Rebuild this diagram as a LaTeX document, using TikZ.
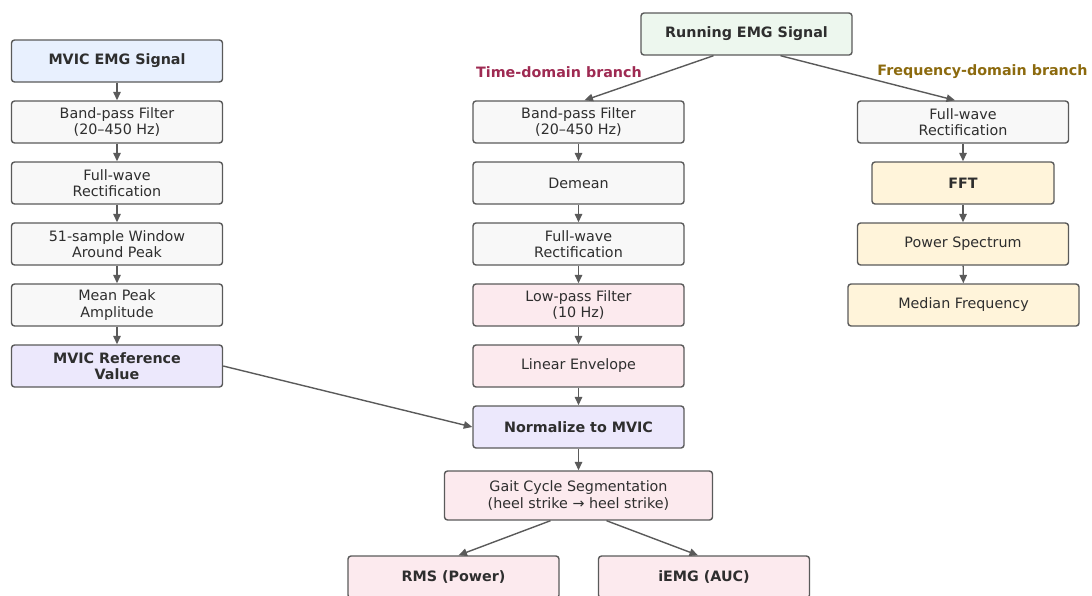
\documentclass[tikz,border=0pt]{standalone}
\usepackage{fontspec}
\setmainfont{DejaVu Sans}
\usetikzlibrary{arrows.meta}
\definecolor{edgegray}{HTML}{5A5A5A}
\definecolor{txtgray}{HTML}{2E2E2E}
\definecolor{fillgray}{HTML}{F8F8F8}
\definecolor{fillblue}{HTML}{E8F0FE}
\definecolor{fillgreen}{HTML}{EDF7EE}
\definecolor{fillpink}{HTML}{FCEAEE}
\definecolor{filllav}{HTML}{ECE8FC}
\definecolor{fillyel}{HTML}{FFF4DA}
\definecolor{timecol}{HTML}{9E2A52}
\definecolor{freqcol}{HTML}{8C6A0E}

\begin{document}
\begin{tikzpicture}[x=1pt, y=-1pt]
	\tikzstyle{every node} = [font=\fontsize{14.3}{16.3}\selectfont, text=txtgray]
	\tikzstyle{box} = [rectangle, draw=edgegray, line width=1.4pt, rounded corners=3pt,
	                   align=center, inner sep=0pt, minimum height=42pt, minimum width=211pt]
	\tikzstyle{link} = [draw=edgegray, line width=1.4pt, -{Triangle[length=8.5pt,width=7.5pt]}]
	\useasboundingbox (0,0) rectangle (1092,595);

	\node [box, fill=fillblue, font=\fontsize{14.3}{16.3}\selectfont\bfseries] (mvic) at (117,61) {MVIC EMG Signal};
	\node [box, fill=fillgray]  (mbp)   at (117,122) {Band-pass Filter\\(20–450 Hz)};
	\node [box, fill=fillgray]  (mrect) at (117,183) {Full-wave\\Rectification};
	\node [box, fill=fillgray]  (mwin)  at (117,244) {51-sample Window\\Around Peak};
	\node [box, fill=fillgray]  (mpeak) at (117,305) {Mean Peak\\Amplitude};
	\node [box, fill=filllav, font=\fontsize{14.3}{16.3}\selectfont\bfseries] (mref) at (117,366) {MVIC Reference\\Value};
	\draw [link] (mvic)  -- (mbp);
	\draw [link] (mbp)   -- (mrect);
	\draw [link] (mrect) -- (mwin);
	\draw [link] (mwin)  -- (mpeak);
	\draw [link] (mpeak) -- (mref);

	\node [box, fill=fillgreen, font=\fontsize{14.3}{16.3}\selectfont\bfseries] (run) at (746.5,34) {Running EMG Signal};
	\node [text=timecol, font=\fontsize{14.3}{16.3}\selectfont\bfseries] (tlabel) at (559,72) {Time-domain branch};
	\node [text=freqcol, font=\fontsize{14.3}{16.3}\selectfont\bfseries] (flabel) at (982.5,72) {Frequency-domain branch};

	\node [box, fill=fillgray]  (tbp)   at (578.5,122) {Band-pass Filter\\(20–450 Hz)};
	\node [box, fill=fillgray]  (tdem)  at (578.5,183) {Demean};
	\node [box, fill=fillgray]  (trect) at (578.5,244) {Full-wave\\Rectification};
	\node [box, fill=fillpink]  (tlow)  at (578.5,305) {Low-pass Filter\\(10 Hz)};
	\node [box, fill=fillpink]  (tenv)  at (578.5,366) {Linear Envelope};
	\node [box, fill=filllav, font=\fontsize{14.3}{16.3}\selectfont\bfseries] (tnorm) at (578.5,427) {Normalize to MVIC};
	\node [box, fill=fillpink, minimum width=268pt, minimum height=49pt] (tgait) at (578.5,495.5) {Gait Cycle Segmentation\\(heel strike → heel strike)};
	\node [box, fill=fillpink, font=\fontsize{14.3}{16.3}\selectfont\bfseries] (trms)  at (453.5,577) {RMS (Power)};
	\node [box, fill=fillpink, font=\fontsize{14.3}{16.3}\selectfont\bfseries] (tiemg) at (704,577) {iEMG (AUC)};

	\node [box, fill=fillgray]  (frect) at (963,122) {Full-wave\\Rectification};
	\node [box, fill=fillyel, minimum width=182pt, font=\fontsize{14.3}{16.3}\selectfont\bfseries] (ffft) at (963,183) {FFT};
	\node [box, fill=fillyel]   (fpow)  at (963,244) {Power Spectrum};
	\node [box, fill=fillyel, minimum width=231pt] (fmed) at (963.5,305) {Median Frequency};

	\draw [link] ([xshift=-33pt]run.south) -- ([xshift=6pt]tbp.north);
	\draw [link] ([xshift=34pt]run.south)  -- ([xshift=-8pt]frect.north);
	\draw [link] (tbp)   -- (tdem);
	\draw [link] (tdem)  -- (trect);
	\draw [link] (trect) -- (tlow);
	\draw [link] (tlow)  -- (tenv);
	\draw [link] (tenv)  -- (tnorm);
	\draw [link] (mref.east) -- (tnorm.west);
	\draw [link] (tnorm) -- (tgait);
	\draw [link] ([xshift=-28pt]tgait.south) -- ([xshift=5pt]trms.north);
	\draw [link] ([xshift=28pt]tgait.south)  -- ([xshift=-6pt]tiemg.north);
	\draw [link] (frect) -- (ffft);
	\draw [link] (ffft)  -- (fpow);
	\draw [link] (fpow)  -- (fmed);
\end{tikzpicture}
\end{document}
